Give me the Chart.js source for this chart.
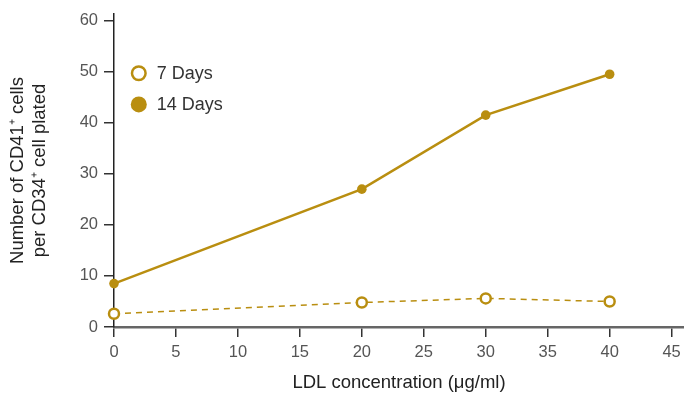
<!DOCTYPE html>
<html>
<head>
<meta charset="utf-8">
<script src="https://cdn.jsdelivr.net/npm/chart.js@4.4.1/dist/chart.umd.min.js"></script>
<style>
  html, body { margin: 0; padding: 0; background: #fff; }
  #wrap { width: 684px; height: 403px; position: relative; }
</style>
</head>
<body>
<div id="wrap"><canvas id="ldlChart" width="684" height="403"></canvas></div>
<script>
// LDL concentration (ug/ml)
const ldlDoses = [0, 20, 30, 40];
// CD41+ cells per CD34+ cell plated
const days7 = [2.6, 4.8, 5.6, 5.0];
const days14 = [8.5, 27.0, 41.5, 49.5];
const seriesNames = ['7 Days', '14 Days'];
const xTickValues = [0, 5, 10, 15, 20, 25, 30, 35, 40, 45];
const yTickValues = [0, 10, 20, 30, 40, 50, 60];

const gold = '#B98E10';
const font = '"Liberation Sans", Arial, Helvetica, sans-serif';

function toPoints(xs, ys) {
    return xs.map((x, i) => ({ x: x, y: ys[i] }));
}

// legend drawn inside the plot, top-left
const insideLegend = {
    id: 'insideLegend',
    afterDraw(chart) {
        const ctx = chart.ctx;
        const x0 = chart.scales.x.getPixelForValue(2);
        const rows = [chart.scales.y.getPixelForValue(49.7), chart.scales.y.getPixelForValue(43.6)];
        ctx.save();
        ctx.font = '18px ' + font;
        ctx.textBaseline = 'middle';
        ctx.textAlign = 'left';
        // 7 Days: open circle
        ctx.beginPath();
        ctx.arc(x0, rows[0], 6.8, 0, Math.PI * 2);
        ctx.fillStyle = '#fff';
        ctx.fill();
        ctx.lineWidth = 2.5;
        ctx.strokeStyle = gold;
        ctx.stroke();
        // 14 Days: filled circle
        ctx.beginPath();
        ctx.arc(x0, rows[1], 8, 0, Math.PI * 2);
        ctx.fillStyle = gold;
        ctx.fill();
        ctx.fillStyle = '#333';
        ctx.fillText(seriesNames[0], x0 + 18, rows[0] + 1);
        ctx.fillText(seriesNames[1], x0 + 18, rows[1] + 1);
        ctx.restore();
    }
};

new Chart(document.getElementById('ldlChart'), {
    type: 'scatter',
    data: {
        datasets: [
            {
                label: seriesNames[0],
                data: toPoints(ldlDoses, days7),
                showLine: true,
                clip: false,
                borderColor: gold,
                borderWidth: 1.5,
                borderDash: [6, 5],
                pointRadius: 5,
                pointBorderWidth: 2.5,
                pointBackgroundColor: '#fff',
                pointBorderColor: gold
            },
            {
                label: seriesNames[1],
                data: toPoints(ldlDoses, days14),
                showLine: true,
                clip: false,
                borderColor: gold,
                borderWidth: 2.5,
                pointRadius: 4.8,
                pointBorderWidth: 0,
                pointBackgroundColor: gold,
                pointBorderColor: gold
            }
        ]
    },
    options: {
        responsive: false,
        animation: false,
        layout: { autoPadding: false, padding: { top: 14, right: 0, left: 0, bottom: 0 } },
        plugins: {
            legend: { display: false },
            tooltip: { enabled: false }
        },
        scales: {
            x: {
                type: 'linear',
                min: 0,
                max: 46,
                afterBuildTicks(scale) {
                    scale.ticks = xTickValues.map(v => ({ value: v }));
                },
                afterFit(scale) {
                    scale.height = 76;
                    scale.paddingLeft = 0;
                    scale.paddingRight = 0;
                },
                grid: { drawOnChartArea: false, drawTicks: true, tickLength: 10, color: '#333', lineWidth: 1.5 },
                border: { display: true, color: '#666', width: 2.5 },
                ticks: { color: '#555', padding: 6, maxRotation: 0, font: { family: font, size: 16.5 } },
                title: {
                    display: true,
                    text: 'LDL concentration (\u03bcg/ml)',
                    color: '#222',
                    font: { family: font, size: 18.5 },
                    padding: { top: 0, bottom: 9 }
                }
            },
            y: {
                type: 'linear',
                min: 0,
                max: 61.3,
                afterBuildTicks(scale) {
                    scale.ticks = yTickValues.map(v => ({ value: v }));
                },
                afterFit(scale) {
                    scale.width = 114;
                    scale.paddingTop = 0;
                    scale.paddingBottom = 0;
                },
                grid: { drawOnChartArea: false, drawTicks: true, tickLength: 10, color: '#333', lineWidth: 1.5 },
                border: { display: true, color: '#222', width: 1.5 },
                ticks: { color: '#555', padding: 6, font: { family: font, size: 16.5 } },
                title: {
                    display: true,
                    text: ['Number of CD41\u207a cells', 'per CD34\u207a cell plated'],
                    color: '#222',
                    font: { family: font, size: 18.5, lineHeight: 1.19 },
                    padding: { top: 7, bottom: 0 }
                }
            }
        }
    },
    plugins: [insideLegend]
});
</script>
</body>
</html>
